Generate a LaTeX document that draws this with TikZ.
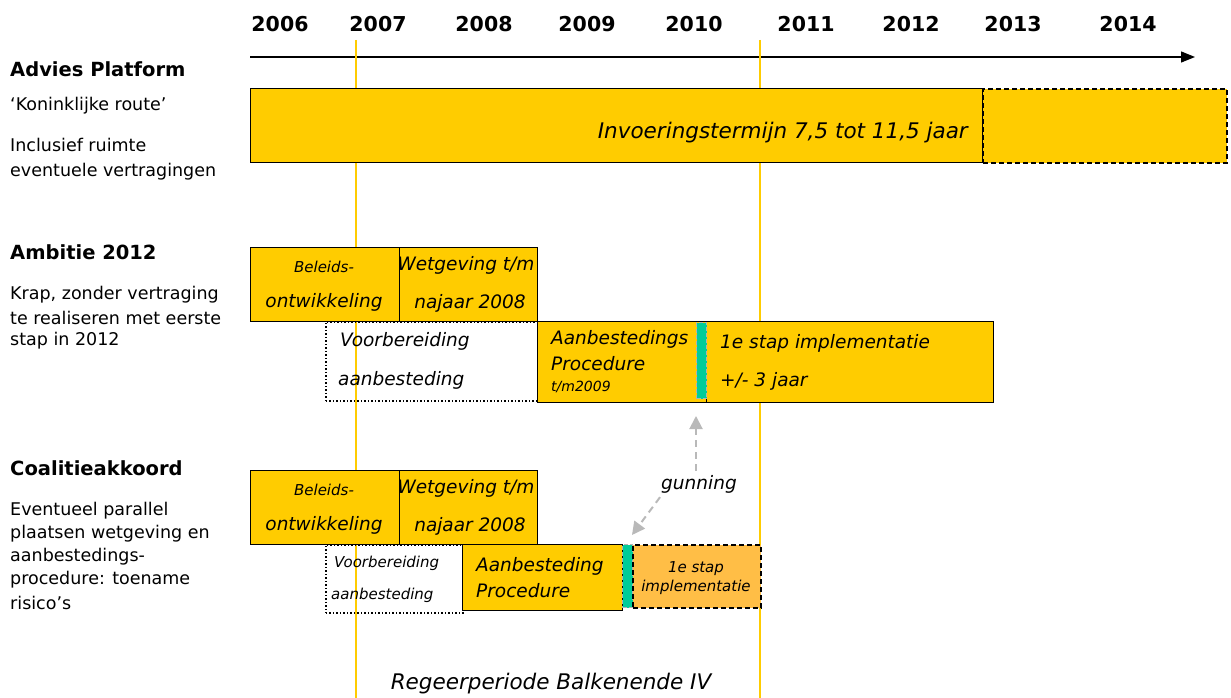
\documentclass[tikz,border=0pt]{standalone}
\usepackage{fontspec}
\setmainfont{DejaVu Sans}
\usetikzlibrary{arrows.meta}
\definecolor{balkgeel}{RGB}{255,204,0}
\definecolor{balkoranje}{RGB}{255,190,70}
\definecolor{gunninggroen}{RGB}{0,204,153}
\definecolor{pijlgrijs}{RGB}{185,185,185}

\begin{document}
\begin{tikzpicture}[x=1pt, y=-1pt,
    every node/.style={inner sep=0pt},
    jaar/.style={font=\bfseries\fontsize{20.5}{22}\selectfont},
    kop/.style={anchor=west, font=\bfseries\fontsize{19.5}{22}\selectfont},
    uitleg/.style={anchor=west, font=\fontsize{17.5}{20}\selectfont},
    balk/.style={draw=black, fill=balkgeel, line width=1.2pt, anchor=north west},
    voorbereid/.style={draw=black, dotted, line width=1.5pt, anchor=north west},
    uitloop/.style={draw=black, dash pattern=on 5pt off 3pt, line width=1.8pt, anchor=north west},
    gunningsbalk/.style={draw=gray!60, dash pattern=on 4pt off 2pt, fill=gunninggroen, line width=1pt, anchor=north west},
    tekst/.style={font=\itshape\fontsize{18.5}{22}\selectfont},
    klein/.style={font=\itshape\fontsize{15}{17}\selectfont},
    gunpijl/.style={draw=pijlgrijs, dash pattern=on 7pt off 5pt, line width=2pt, -{Triangle[width=13pt,length=13pt]}}
  ]
  \useasboundingbox (0,0) rectangle (1231,698);

  % jaren en tijdas
  \foreach \j/\x in {2006/280, 2007/378, 2008/484, 2009/587, 2010/694,
                     2011/806, 2012/911, 2013/1013, 2014/1128}
    \node[jaar] (j\j) at (\x,24) {\j};
  \coordinate (asbegin) at (250,57);
  \coordinate (aseind) at (1195,57);
  \draw[line width=1.2pt, -{Triangle[width=11pt,length=14pt]}] (asbegin) -- (aseind);

  % regeerperiode
  \coordinate (rpa) at (356,40);
  \coordinate (rpb) at (356,698);
  \coordinate (rpc) at (760,40);
  \coordinate (rpd) at (760,698);
  \draw[balkgeel, line width=1.5pt] (rpa) -- (rpb);
  \draw[balkgeel, line width=1.5pt] (rpc) -- (rpd);
  \node[font=\itshape\fontsize{21.5}{24}\selectfont] (regeer) at (551,684) {Regeerperiode Balkenende IV};

  % Advies Platform
  \node[kop] (advies) at (10,69) {Advies Platform};
  \node[uitleg] (route) at (10,106) {‘Koninklijke route’};
  \node[uitleg] (incl1) at (10,145) {Inclusief ruimte};
  \node[uitleg] (incl2) at (10,172) {eventuele vertragingen};
  \node[balk, minimum width=732pt, minimum height=74pt] (termijn) at (250,88) {};
  \node[uitloop, fill=balkgeel, minimum width=244pt, minimum height=74pt] (termijnuit) at (982,88) {};
  \node[tekst, anchor=east, font=\itshape\fontsize{21.5}{24}\selectfont] (termijntxt) at (968,133) {Invoeringstermijn 7,5 tot 11,5 jaar};

  % Ambitie 2012
  \node[kop] (ambitie) at (10,252) {Ambitie 2012};
  \node[uitleg] (krap1) at (10,295) {Krap, zonder vertraging};
  \node[uitleg] (krap2) at (10,318) {te realiseren met eerste};
  \node[uitleg] (krap3) at (10,341) {stap in 2012};

  \node[voorbereid, minimum width=212pt, minimum height=79pt] (voorb1) at (325,321) {};
  \node[tekst, anchor=west] (voorb1a) at (340,341) {Voorbereiding};
  \node[tekst, anchor=west] (voorb1b) at (338,380) {aanbesteding};
  \node[balk, minimum width=149pt, minimum height=74pt] (beleid1) at (250,247) {};
  \node[klein] (beleid1a) at (324,267) {Beleids-};
  \node[tekst] (beleid1b) at (324,302) {ontwikkeling};
  \node[balk, minimum width=138pt, minimum height=74pt] (wet1) at (399,247) {};
  \node[tekst] (wet1a) at (466,265) {Wetgeving t/m};
  \node[tekst] (wet1b) at (470,303) {najaar 2008};
  \node[balk, minimum width=169pt, minimum height=81pt] (aanb1) at (537,321) {};
  \node[tekst, anchor=west] (aanb1a) at (551,339) {Aanbestedings};
  \node[tekst, anchor=west] (aanb1b) at (551,364) {Procedure};
  \node[klein, font=\itshape\fontsize{14}{16}\selectfont, anchor=west] (aanb1c) at (551,387) {t/m2009};
  \node[balk, minimum width=287pt, minimum height=81pt] (impl1) at (706,321) {};
  \node[tekst, anchor=west] (impl1a) at (720,343) {1e stap implementatie};
  \node[tekst, anchor=west] (impl1b) at (720,381) {+/- 3 jaar};
  \node[gunningsbalk, minimum width=10pt, minimum height=76pt] (groen1) at (696,322) {};

  % Coalitieakkoord
  \node[kop] (coalitie) at (10,468) {Coalitieakkoord};
  \node[uitleg] (par1) at (10,511) {Eventueel parallel};
  \node[uitleg] (par2) at (10,534) {plaatsen wetgeving en};
  \node[uitleg] (par3) at (10,557) {aanbestedings-};
  \node[uitleg] (par4) at (10,580) {procedure: toename};
  \node[uitleg] (par5) at (10,603) {risico’s};

  \node[voorbereid, minimum width=137pt, minimum height=68pt] (voorb2) at (325,544) {};
  \node[klein, anchor=west] (voorb2a) at (334,563) {Voorbereiding};
  \node[klein, anchor=west] (voorb2b) at (331,595) {aanbesteding};
  \node[balk, minimum width=149pt, minimum height=74pt] (beleid2) at (250,470) {};
  \node[klein] (beleid2a) at (324,490) {Beleids-};
  \node[tekst] (beleid2b) at (324,525) {ontwikkeling};
  \node[balk, minimum width=138pt, minimum height=74pt] (wet2) at (399,470) {};
  \node[tekst] (wet2a) at (466,488) {Wetgeving t/m};
  \node[tekst] (wet2b) at (470,526) {najaar 2008};
  \node[balk, minimum width=160pt, minimum height=66pt] (aanb2) at (462,544) {};
  \node[tekst, anchor=west] (aanb2a) at (476,566) {Aanbesteding};
  \node[tekst, anchor=west] (aanb2b) at (476,591) {Procedure};
  \node[gunningsbalk, minimum width=10pt, minimum height=63pt] (groen2) at (622,544) {};
  \node[uitloop, fill=balkoranje, minimum width=128pt, minimum height=63pt] (impl2) at (632,544) {};
  \node[klein] (impl2a) at (696,569) {1e stap};
  \node[klein] (impl2b) at (696,587) {implementatie};

  % gunning
  \node[tekst] (gunning) at (699,484) {gunning};
  \coordinate (gun1) at (696,416);
  \coordinate (gun2) at (632,535);
  \draw[gunpijl] (gunning.north -| gun1) ++(0,-4) -- (gun1);
  \draw[gunpijl] (gunning.south west) ++(-1,4) -- (gun2);
\end{tikzpicture}
\end{document}
